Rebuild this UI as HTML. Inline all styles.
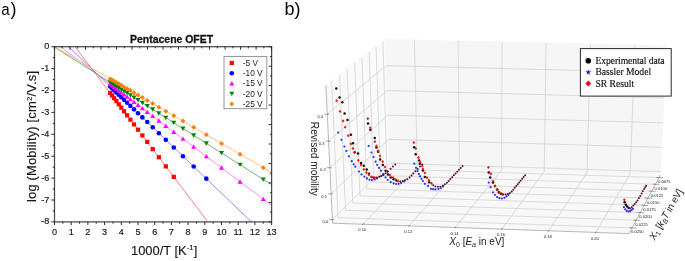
<!DOCTYPE html>
<html><head><meta charset="utf-8"><style>
html,body{margin:0;padding:0;background:#fff;}
svg{display:block;}
</style></head><body>
<svg style="will-change:transform" width="685" height="261" viewBox="0 0 685 261">
<rect width="685" height="261" fill="#fff"/>
<polygon points="389.42,166.47 332.56,223.19 325.89,85.4 385.47,39.09" fill="#fafafa" stroke="#fafafa" stroke-width="0.5"/>
<polygon points="389.42,166.47 660.47,174.97 666.77,45.57 385.47,39.09" fill="#f6f6f6" stroke="#f6f6f6" stroke-width="0.5"/>
<polygon points="389.42,166.47 660.47,174.97 629.03,233.62 332.56,223.19" fill="#f8f8f8" stroke="#f8f8f8" stroke-width="0.5"/>
<path d="M417.33 167.35L414.43 39.75M417.33 167.35L363.04 224.26M459.41 168.66L458.07 40.76M459.41 168.66L409.02 225.88M501.72 169.99L501.97 41.77M501.72 169.99L455.27 227.5M544.26 171.32L546.12 42.79M544.26 171.32L501.79 229.14M587.03 172.67L590.52 43.81M587.03 172.67L548.6 230.79M630.05 174.01L635.17 44.84M630.05 174.01L595.7 232.44M386.91 168.97L382.86 41.12M386.91 168.97L659.09 177.55M380.39 175.47L376.05 46.41M380.39 175.47L655.49 184.26M373.73 182.11L369.08 51.83M373.73 182.11L651.81 191.13M366.92 188.91L361.95 57.37M366.92 188.91L648.04 198.15M359.96 195.86L354.65 63.04M359.96 195.86L644.19 205.33M352.83 202.96L347.18 68.85M352.83 202.96L640.25 212.68M345.54 210.23L339.53 74.8M345.54 210.23L636.22 220.21M338.08 217.68L331.69 80.89M338.08 217.68L632.09 227.91M389.32 163.21L660.63 171.66M389.32 163.21L332.39 219.67M388.58 139.32L661.81 147.41M388.58 139.32L331.14 193.9M387.83 115.1L663.01 122.81M387.83 115.1L329.87 167.74M387.07 90.54L664.22 97.86M387.07 90.54L328.59 141.17M386.3 65.62L665.45 72.54M386.3 65.62L327.28 114.19" stroke="#cfcfcf" stroke-width="0.7" fill="none"/>
<path d="M332.56 223.19L629.03 233.62M660.47 174.97L629.03 233.62M332.56 223.19L325.89 85.4" stroke="#8c8c8c" stroke-width="0.6" fill="none"/>
<path d="M362.21 225.13L363.94 223.32M408.24 226.75L409.84 224.94M454.55 228.39L456.03 226.56M501.14 230.03L502.49 228.19M548.01 231.68L549.24 229.83M595.17 233.34L596.27 231.48M662.97 177.67L656.32 177.46M659.41 184.39L652.69 184.17M655.77 191.25L648.98 191.03M652.05 198.28L645.18 198.05M648.25 205.47L641.3 205.23M644.35 212.82L637.32 212.58M640.37 220.35L633.26 220.11M636.28 228.06L629.09 227.81M329.48 219.57L334.14 219.73M328.21 193.81L332.9 193.96M326.92 167.65L331.65 167.8M325.61 141.09L330.37 141.23M324.28 114.1L329.08 114.24" stroke="#444" stroke-width="0.5" fill="none"/>
<g font-family="Liberation Sans" font-size="4.1" fill="#222" text-anchor="middle">
<text x="362.24" y="231.36">0.10</text>
<text x="408.22" y="232.98">0.12</text>
<text x="454.47" y="234.6">0.14</text>
<text x="500.99" y="236.24">0.16</text>
<text x="547.8" y="237.89">0.18</text>
<text x="594.9" y="239.54">0.20</text>
<text x="325.39" y="223.27">0.0</text>
<text x="324.14" y="197.5">0.1</text>
<text x="322.87" y="171.34">0.2</text>
<text x="321.59" y="144.77">0.3</text>
<text x="320.28" y="117.79">0.4</text>
<text x="664.39" y="183.05">0.0075</text>
<text x="660.79" y="189.76">0.0100</text>
<text x="657.11" y="196.63">0.0125</text>
<text x="653.34" y="203.65">0.0150</text>
<text x="649.49" y="210.83">0.0175</text>
<text x="645.55" y="218.18">0.0200</text>
<text x="641.52" y="225.71">0.0225</text>
<text x="637.39" y="233.41">0.0250</text>
</g>
<text transform="translate(310.8,121.8) rotate(90)" font-family="Liberation Sans" font-size="10" fill="#222" textLength="74" lengthAdjust="spacingAndGlyphs">Revised mobility</text>
<text x="449.3" y="245" font-family="Liberation Sans" font-size="10" fill="#222"><tspan font-style="italic">X</tspan><tspan font-size="7" dy="1.8">0</tspan><tspan dy="-1.8"> [</tspan><tspan font-style="italic">E</tspan><tspan font-size="7" font-style="italic" dy="1.8">a</tspan><tspan dy="-1.8"> in eV]</tspan></text>
<text transform="translate(654.6,240.8) rotate(-60)" font-family="Liberation Sans" font-size="9.9" letter-spacing="-0.2" fill="#222"><tspan font-style="italic">X</tspan><tspan font-size="7" dy="1.8">1</tspan><tspan dy="-1.8"> [</tspan><tspan font-style="italic">k</tspan><tspan font-size="7" font-style="italic" dy="1.8">B</tspan><tspan dy="-1.8" font-style="italic">T</tspan><tspan> in eV]</tspan></text>
<circle cx="338.3" cy="132.5" r="1.1" fill="#3030ff"/>
<circle cx="341.4" cy="139.8" r="1.1" fill="#3030ff"/>
<circle cx="344.4" cy="146.6" r="1.1" fill="#3030ff"/>
<circle cx="346.3" cy="150.9" r="1.1" fill="#3030ff"/>
<circle cx="348.9" cy="156.3" r="1.1" fill="#3030ff"/>
<circle cx="351.8" cy="161.2" r="1.1" fill="#3030ff"/>
<circle cx="353.7" cy="164.3" r="1.1" fill="#3030ff"/>
<circle cx="355.3" cy="166.7" r="1.1" fill="#3030ff"/>
<circle cx="359" cy="171.5" r="1.1" fill="#3030ff"/>
<circle cx="361.5" cy="174.4" r="1.1" fill="#3030ff"/>
<circle cx="364.4" cy="176.7" r="1.1" fill="#3030ff"/>
<circle cx="367" cy="178.4" r="1.1" fill="#3030ff"/>
<circle cx="369.5" cy="179.8" r="1.1" fill="#3030ff"/>
<circle cx="372" cy="180.1" r="1.1" fill="#3030ff"/>
<circle cx="374.7" cy="179.5" r="1.1" fill="#3030ff"/>
<circle cx="377" cy="178.4" r="1.1" fill="#3030ff"/>
<circle cx="380.3" cy="176.5" r="1.1" fill="#3030ff"/>
<circle cx="383.2" cy="175.1" r="1.1" fill="#3030ff"/>
<circle cx="368.7" cy="146.1" r="1.1" fill="#3030ff"/>
<circle cx="371.4" cy="152.5" r="1.1" fill="#3030ff"/>
<circle cx="373.5" cy="157" r="1.1" fill="#3030ff"/>
<circle cx="375.6" cy="161.7" r="1.1" fill="#3030ff"/>
<circle cx="377.2" cy="164.8" r="1.1" fill="#3030ff"/>
<circle cx="379" cy="167.9" r="1.1" fill="#3030ff"/>
<circle cx="380.9" cy="170.7" r="1.1" fill="#3030ff"/>
<circle cx="383.4" cy="174.1" r="1.1" fill="#3030ff"/>
<circle cx="385.6" cy="177.4" r="1.1" fill="#3030ff"/>
<circle cx="387.8" cy="180" r="1.1" fill="#3030ff"/>
<circle cx="390.7" cy="182.2" r="1.1" fill="#3030ff"/>
<circle cx="393.6" cy="183.4" r="1.1" fill="#3030ff"/>
<circle cx="396.2" cy="184" r="1.1" fill="#3030ff"/>
<circle cx="398.7" cy="183.8" r="1.1" fill="#3030ff"/>
<circle cx="401.1" cy="183" r="1.1" fill="#3030ff"/>
<circle cx="404.2" cy="181.5" r="1.1" fill="#3030ff"/>
<circle cx="414.3" cy="163.7" r="1.1" fill="#3030ff"/>
<circle cx="416" cy="167.8" r="1.1" fill="#3030ff"/>
<circle cx="417.5" cy="171" r="1.1" fill="#3030ff"/>
<circle cx="418.9" cy="174.1" r="1.1" fill="#3030ff"/>
<circle cx="420" cy="176.4" r="1.1" fill="#3030ff"/>
<circle cx="421.5" cy="178.8" r="1.1" fill="#3030ff"/>
<circle cx="422.9" cy="181" r="1.1" fill="#3030ff"/>
<circle cx="424.9" cy="183.8" r="1.1" fill="#3030ff"/>
<circle cx="428.1" cy="186.1" r="1.1" fill="#3030ff"/>
<circle cx="431" cy="188.8" r="1.1" fill="#3030ff"/>
<circle cx="433.1" cy="189.2" r="1.1" fill="#3030ff"/>
<circle cx="435.4" cy="189.4" r="1.1" fill="#3030ff"/>
<circle cx="438.4" cy="189.1" r="1.1" fill="#3030ff"/>
<circle cx="440.7" cy="188" r="1.1" fill="#3030ff"/>
<circle cx="443" cy="186.4" r="1.1" fill="#3030ff"/>
<circle cx="488.8" cy="182.6" r="1.1" fill="#3030ff"/>
<circle cx="490.6" cy="187.2" r="1.1" fill="#3030ff"/>
<circle cx="493" cy="192.3" r="1.1" fill="#3030ff"/>
<circle cx="495" cy="195" r="1.1" fill="#3030ff"/>
<circle cx="497.1" cy="197.1" r="1.1" fill="#3030ff"/>
<circle cx="499.4" cy="198.2" r="1.1" fill="#3030ff"/>
<circle cx="501.9" cy="198.5" r="1.1" fill="#3030ff"/>
<circle cx="504.4" cy="197.8" r="1.1" fill="#3030ff"/>
<circle cx="506.5" cy="196.4" r="1.1" fill="#3030ff"/>
<circle cx="508.5" cy="194.8" r="1.1" fill="#3030ff"/>
<circle cx="623.9" cy="207.2" r="1.1" fill="#3030ff"/>
<circle cx="625.2" cy="209.3" r="1.1" fill="#3030ff"/>
<circle cx="626.8" cy="210.9" r="1.1" fill="#3030ff"/>
<circle cx="628.4" cy="211.5" r="1.1" fill="#3030ff"/>
<circle cx="630.1" cy="211.2" r="1.1" fill="#3030ff"/>
<circle cx="631.7" cy="210" r="1.1" fill="#3030ff"/>
<circle cx="632.9" cy="208.8" r="1.1" fill="#3030ff"/>
<circle cx="336.3" cy="88.4" r="1.25" fill="#111"/>
<circle cx="339.5" cy="97.6" r="1.25" fill="#111"/>
<circle cx="342.3" cy="102.2" r="1.25" fill="#111"/>
<circle cx="344.6" cy="113.5" r="1.25" fill="#111"/>
<circle cx="347.5" cy="120" r="1.25" fill="#111"/>
<circle cx="350.9" cy="134.8" r="1.25" fill="#111"/>
<circle cx="353" cy="143.2" r="1.25" fill="#111"/>
<circle cx="354.7" cy="152.3" r="1.25" fill="#111"/>
<circle cx="358" cy="153.4" r="1.25" fill="#111"/>
<circle cx="361" cy="163" r="1.25" fill="#111"/>
<circle cx="363.8" cy="165.7" r="1.25" fill="#111"/>
<circle cx="366.7" cy="169.4" r="1.25" fill="#111"/>
<circle cx="369" cy="173.8" r="1.25" fill="#111"/>
<circle cx="371.6" cy="177" r="1.25" fill="#111"/>
<circle cx="374.1" cy="177.8" r="1.25" fill="#111"/>
<circle cx="368" cy="123.4" r="1.25" fill="#111"/>
<circle cx="370.4" cy="129.8" r="1.25" fill="#111"/>
<circle cx="374.8" cy="138" r="1.25" fill="#111"/>
<circle cx="376.4" cy="147.4" r="1.25" fill="#111"/>
<circle cx="378.1" cy="151.7" r="1.25" fill="#111"/>
<circle cx="380.1" cy="159.4" r="1.25" fill="#111"/>
<circle cx="382.8" cy="165" r="1.25" fill="#111"/>
<circle cx="385.6" cy="170.8" r="1.25" fill="#111"/>
<circle cx="388" cy="174.5" r="1.25" fill="#111"/>
<circle cx="390.7" cy="177.6" r="1.25" fill="#111"/>
<circle cx="393.6" cy="179.3" r="1.25" fill="#111"/>
<circle cx="396.5" cy="180.6" r="1.25" fill="#111"/>
<circle cx="414.2" cy="147.2" r="1.25" fill="#111"/>
<circle cx="415.7" cy="154.2" r="1.25" fill="#111"/>
<circle cx="419.1" cy="160.5" r="1.25" fill="#111"/>
<circle cx="419.8" cy="163.7" r="1.25" fill="#111"/>
<circle cx="422.9" cy="170.4" r="1.25" fill="#111"/>
<circle cx="424.9" cy="176.9" r="1.25" fill="#111"/>
<circle cx="429.2" cy="182.3" r="1.25" fill="#111"/>
<circle cx="488.8" cy="172.6" r="1.25" fill="#111"/>
<circle cx="490.2" cy="177.5" r="1.25" fill="#111"/>
<circle cx="493" cy="182.6" r="1.25" fill="#111"/>
<circle cx="495" cy="186" r="1.25" fill="#111"/>
<circle cx="497.1" cy="189.5" r="1.25" fill="#111"/>
<circle cx="498.9" cy="192.3" r="1.25" fill="#111"/>
<circle cx="501.2" cy="193.7" r="1.25" fill="#111"/>
<circle cx="624.7" cy="202.3" r="1.25" fill="#111"/>
<circle cx="625.9" cy="204.7" r="1.25" fill="#111"/>
<circle cx="627.1" cy="206.6" r="1.25" fill="#111"/>
<circle cx="628.6" cy="208" r="1.25" fill="#111"/>
<polygon points="336.6,99.1 338,100.7 336.6,102.3 335.2,100.7" fill="#ff1010"/>
<polygon points="340,109.8 341.4,111.4 340,113 338.6,111.4" fill="#ff1010"/>
<polygon points="343.1,119.3 344.5,120.9 343.1,122.5 341.7,120.9" fill="#ff1010"/>
<polygon points="345.2,125.6 346.6,127.2 345.2,128.8 343.8,127.2" fill="#ff1010"/>
<polygon points="348.2,134.1 349.6,135.7 348.2,137.3 346.8,135.7" fill="#ff1010"/>
<polygon points="351,142.2 352.4,143.8 351,145.4 349.6,143.8" fill="#ff1010"/>
<polygon points="353,146.8 354.4,148.4 353,150 351.6,148.4" fill="#ff1010"/>
<polygon points="354.7,150.7 356.1,152.3 354.7,153.9 353.3,152.3" fill="#ff1010"/>
<polygon points="358.3,158.7 359.7,160.3 358.3,161.9 356.9,160.3" fill="#ff1010"/>
<polygon points="361,163.2 362.4,164.8 361,166.4 359.6,164.8" fill="#ff1010"/>
<polygon points="363.8,167.8 365.2,169.4 363.8,171 362.4,169.4" fill="#ff1010"/>
<polygon points="366.4,171 367.8,172.6 366.4,174.2 365,172.6" fill="#ff1010"/>
<polygon points="369,173.3 370.4,174.9 369,176.5 367.6,174.9" fill="#ff1010"/>
<polygon points="371.8,175.4 373.2,177 371.8,178.6 370.4,177" fill="#ff1010"/>
<polygon points="374.7,176.2 376.1,177.8 374.7,179.4 373.3,177.8" fill="#ff1010"/>
<polygon points="367.8,117 369.2,118.6 367.8,120.2 366.4,118.6" fill="#ff1010"/>
<polygon points="370.3,126.2 371.7,127.8 370.3,129.4 368.9,127.8" fill="#ff1010"/>
<polygon points="374.9,140.1 376.3,141.7 374.9,143.3 373.5,141.7" fill="#ff1010"/>
<polygon points="376.4,144.3 377.8,145.9 376.4,147.5 375,145.9" fill="#ff1010"/>
<polygon points="378.1,149.3 379.5,150.9 378.1,152.5 376.7,150.9" fill="#ff1010"/>
<polygon points="380,154.3 381.4,155.9 380,157.5 378.6,155.9" fill="#ff1010"/>
<polygon points="382.7,160.1 384.1,161.7 382.7,163.3 381.3,161.7" fill="#ff1010"/>
<polygon points="385,165.4 386.4,167 385,168.6 383.6,167" fill="#ff1010"/>
<polygon points="387.5,169.9 388.9,171.5 387.5,173.1 386.1,171.5" fill="#ff1010"/>
<polygon points="389.9,173.4 391.3,175 389.9,176.6 388.5,175" fill="#ff1010"/>
<polygon points="393,176 394.4,177.6 393,179.2 391.6,177.6" fill="#ff1010"/>
<polygon points="395.3,177.8 396.7,179.4 395.3,181 393.9,179.4" fill="#ff1010"/>
<polygon points="398.2,179.5 399.6,181.1 398.2,182.7 396.8,181.1" fill="#ff1010"/>
<polygon points="413.9,141 415.3,142.6 413.9,144.2 412.5,142.6" fill="#ff1010"/>
<polygon points="415.7,146.8 417.1,148.4 415.7,150 414.3,148.4" fill="#ff1010"/>
<polygon points="418.5,156 419.9,157.6 418.5,159.2 417.1,157.6" fill="#ff1010"/>
<polygon points="420.2,160.6 421.6,162.2 420.2,163.8 418.8,162.2" fill="#ff1010"/>
<polygon points="422.3,164.4 423.7,166 422.3,167.6 420.9,166" fill="#ff1010"/>
<polygon points="422.9,167.3 424.3,168.9 422.9,170.5 421.5,168.9" fill="#ff1010"/>
<polygon points="424.9,171.3 426.3,172.9 424.9,174.5 423.5,172.9" fill="#ff1010"/>
<polygon points="426.9,176.1 428.3,177.7 426.9,179.3 425.5,177.7" fill="#ff1010"/>
<polygon points="429,178.6 430.4,180.2 429,181.8 427.6,180.2" fill="#ff1010"/>
<polygon points="431.5,181.7 432.9,183.3 431.5,184.9 430.1,183.3" fill="#ff1010"/>
<polygon points="488.4,165.8 489.8,167.4 488.4,169 487,167.4" fill="#ff1010"/>
<polygon points="490.9,172.3 492.3,173.9 490.9,175.5 489.5,173.9" fill="#ff1010"/>
<polygon points="493,179.4 494.4,181 493,182.6 491.6,181" fill="#ff1010"/>
<polygon points="495,184.5 496.4,186.1 495,187.7 493.6,186.1" fill="#ff1010"/>
<polygon points="497.5,188.3 498.9,189.9 497.5,191.5 496.1,189.9" fill="#ff1010"/>
<polygon points="499.6,191.4 501,193 499.6,194.6 498.2,193" fill="#ff1010"/>
<polygon points="502.3,192.7 503.7,194.3 502.3,195.9 500.9,194.3" fill="#ff1010"/>
<polygon points="624.3,198.2 625.7,199.8 624.3,201.4 622.9,199.8" fill="#ff1010"/>
<circle cx="376.8" cy="177.6" r="1.0" fill="#5a1426"/>
<circle cx="379.1" cy="176.8" r="1.0" fill="#5a1426"/>
<circle cx="381.4" cy="176" r="1.0" fill="#5a1426"/>
<circle cx="383.4" cy="174.5" r="1.0" fill="#5a1426"/>
<circle cx="385.7" cy="173.2" r="1.0" fill="#5a1426"/>
<circle cx="387.8" cy="171.4" r="1.0" fill="#5a1426"/>
<circle cx="390.6" cy="168.7" r="1.0" fill="#5a1426"/>
<circle cx="392.9" cy="166.6" r="1.0" fill="#5a1426"/>
<circle cx="395.2" cy="164.5" r="1.0" fill="#5a1426"/>
<circle cx="400.4" cy="181.5" r="1.0" fill="#5a1426"/>
<circle cx="402.7" cy="181.1" r="1.0" fill="#5a1426"/>
<circle cx="405" cy="180.2" r="1.0" fill="#5a1426"/>
<circle cx="407.3" cy="179.2" r="1.0" fill="#5a1426"/>
<circle cx="409.6" cy="177.6" r="1.0" fill="#5a1426"/>
<circle cx="411.6" cy="175.6" r="1.0" fill="#5a1426"/>
<circle cx="413.4" cy="173.4" r="1.0" fill="#5a1426"/>
<circle cx="415.4" cy="171.2" r="1.0" fill="#5a1426"/>
<circle cx="417.7" cy="168.9" r="1.0" fill="#5a1426"/>
<circle cx="420" cy="166.6" r="1.0" fill="#5a1426"/>
<circle cx="422.2" cy="164.6" r="1.0" fill="#5a1426"/>
<circle cx="433.2" cy="185.2" r="1.0" fill="#5a1426"/>
<circle cx="435.43" cy="186.41" r="1.0" fill="#5a1426"/>
<circle cx="437.93" cy="186.8" r="1.0" fill="#5a1426"/>
<circle cx="440.45" cy="186.66" r="1.0" fill="#5a1426"/>
<circle cx="442.79" cy="185.76" r="1.0" fill="#5a1426"/>
<circle cx="444.86" cy="184.29" r="1.0" fill="#5a1426"/>
<circle cx="446.86" cy="182.73" r="1.0" fill="#5a1426"/>
<circle cx="448.6" cy="180.89" r="1.0" fill="#5a1426"/>
<circle cx="450.34" cy="179.04" r="1.0" fill="#5a1426"/>
<circle cx="452.08" cy="177.19" r="1.0" fill="#5a1426"/>
<circle cx="453.81" cy="175.34" r="1.0" fill="#5a1426"/>
<circle cx="455.55" cy="173.49" r="1.0" fill="#5a1426"/>
<circle cx="457.29" cy="171.65" r="1.0" fill="#5a1426"/>
<circle cx="459.03" cy="169.8" r="1.0" fill="#5a1426"/>
<circle cx="460.76" cy="167.95" r="1.0" fill="#5a1426"/>
<circle cx="462.5" cy="166.1" r="1.0" fill="#5a1426"/>
<circle cx="503.3" cy="194.6" r="1.0" fill="#5a1426"/>
<circle cx="505.64" cy="194.6" r="1.0" fill="#5a1426"/>
<circle cx="507.87" cy="193.95" r="1.0" fill="#5a1426"/>
<circle cx="509.93" cy="192.91" r="1.0" fill="#5a1426"/>
<circle cx="511.7" cy="191.4" r="1.0" fill="#5a1426"/>
<circle cx="513.27" cy="189.67" r="1.0" fill="#5a1426"/>
<circle cx="514.75" cy="187.87" r="1.0" fill="#5a1426"/>
<circle cx="516.23" cy="186.06" r="1.0" fill="#5a1426"/>
<circle cx="517.71" cy="184.25" r="1.0" fill="#5a1426"/>
<circle cx="519.19" cy="182.44" r="1.0" fill="#5a1426"/>
<circle cx="520.67" cy="180.63" r="1.0" fill="#5a1426"/>
<circle cx="522.14" cy="178.82" r="1.0" fill="#5a1426"/>
<circle cx="523.62" cy="177.01" r="1.0" fill="#5a1426"/>
<circle cx="525.1" cy="175.2" r="1.0" fill="#5a1426"/>
<circle cx="630.1" cy="208.4" r="1.0" fill="#5a1426"/>
<circle cx="631.7" cy="207.2" r="1.0" fill="#5a1426"/>
<circle cx="633.3" cy="205.6" r="1.0" fill="#5a1426"/>
<circle cx="634.8" cy="203.9" r="1.0" fill="#5a1426"/>
<circle cx="636.2" cy="202.2" r="1.0" fill="#5a1426"/>
<circle cx="637.5" cy="200.4" r="1.0" fill="#5a1426"/>
<circle cx="638.9" cy="198.1" r="1.0" fill="#5a1426"/>
<circle cx="640.3" cy="195.9" r="1.0" fill="#5a1426"/>
<circle cx="641.6" cy="193.5" r="1.0" fill="#5a1426"/>
<circle cx="642.8" cy="191.3" r="1.0" fill="#5a1426"/>
<circle cx="644.1" cy="188.9" r="1.0" fill="#5a1426"/>
<circle cx="645.2" cy="187.3" r="1.0" fill="#5a1426"/>
<circle cx="646.1" cy="185.8" r="1.0" fill="#5a1426"/>
<rect x="580.4" y="48.6" width="90.8" height="47.5" fill="#fff" stroke="#2a2a2a" stroke-width="1"/>
<circle cx="588.3" cy="60.8" r="2.8" fill="#000"/>
<polygon points="588.3,69.2 589.03,71.19 591.15,71.27 589.49,72.59 590.06,74.63 588.3,73.45 586.54,74.63 587.11,72.59 585.45,71.27 587.57,71.19" fill="#1a1aff"/>
<polygon points="588.3,80.6 591.1,83.6 588.3,86.6 585.5,83.6" fill="#ff0000"/>
<g font-family="Liberation Serif" font-size="9.6" fill="#111" stroke="#111" stroke-width="0.15">
<text x="595.4" y="63.8" textLength="69.2" lengthAdjust="spacing">Experimental data</text>
<text x="595.4" y="75.1">Bassler Model</text>
<text x="595.4" y="86.6">SR Result</text>
</g>
<clipPath id="cp"><rect x="54.5" y="46.7" width="217.10000000000002" height="175.2"/></clipPath>
<g clip-path="url(#cp)" stroke-width="0.8" fill="none">
<line x1="49.5" y1="12.95" x2="276.6" y2="312.49" stroke="#ff6060"/>
<line x1="49.5" y1="28.4" x2="276.6" y2="245.96" stroke="#7070ff"/>
<line x1="49.5" y1="38.5" x2="276.6" y2="209.15" stroke="#ff70ff"/>
<line x1="49.5" y1="43.91" x2="276.6" y2="187.89" stroke="#50a050"/>
<line x1="49.5" y1="43.69" x2="276.6" y2="175.41" stroke="#ffb060"/>
</g>
<g clip-path="url(#cp)">
<rect x="108.07" y="90.87" width="4.2" height="4.2" fill="#ff0000"/>
<rect x="109.99" y="93.4" width="4.2" height="4.2" fill="#ff0000"/>
<rect x="112.04" y="96.11" width="4.2" height="4.2" fill="#ff0000"/>
<rect x="114.25" y="99.02" width="4.2" height="4.2" fill="#ff0000"/>
<rect x="116.63" y="102.16" width="4.2" height="4.2" fill="#ff0000"/>
<rect x="119.2" y="105.55" width="4.2" height="4.2" fill="#ff0000"/>
<rect x="121.98" y="109.22" width="4.2" height="4.2" fill="#ff0000"/>
<rect x="125.01" y="113.21" width="4.2" height="4.2" fill="#ff0000"/>
<rect x="128.31" y="117.57" width="4.2" height="4.2" fill="#ff0000"/>
<rect x="131.92" y="122.33" width="4.2" height="4.2" fill="#ff0000"/>
<rect x="135.9" y="127.58" width="4.2" height="4.2" fill="#ff0000"/>
<rect x="140.29" y="133.37" width="4.2" height="4.2" fill="#ff0000"/>
<rect x="145.18" y="139.82" width="4.2" height="4.2" fill="#ff0000"/>
<rect x="150.64" y="147.01" width="4.2" height="4.2" fill="#ff0000"/>
<rect x="156.78" y="155.11" width="4.2" height="4.2" fill="#ff0000"/>
<rect x="163.73" y="164.29" width="4.2" height="4.2" fill="#ff0000"/>
<rect x="171.69" y="174.78" width="4.2" height="4.2" fill="#ff0000"/>
<circle cx="110.17" cy="86.52" r="2.3" fill="#0000ff"/>
<circle cx="112.09" cy="88.36" r="2.3" fill="#0000ff"/>
<circle cx="114.14" cy="90.33" r="2.3" fill="#0000ff"/>
<circle cx="116.35" cy="92.44" r="2.3" fill="#0000ff"/>
<circle cx="118.73" cy="94.72" r="2.3" fill="#0000ff"/>
<circle cx="121.3" cy="97.18" r="2.3" fill="#0000ff"/>
<circle cx="124.08" cy="99.85" r="2.3" fill="#0000ff"/>
<circle cx="127.11" cy="102.75" r="2.3" fill="#0000ff"/>
<circle cx="130.41" cy="105.91" r="2.3" fill="#0000ff"/>
<circle cx="134.02" cy="109.37" r="2.3" fill="#0000ff"/>
<circle cx="138" cy="113.18" r="2.3" fill="#0000ff"/>
<circle cx="142.39" cy="117.39" r="2.3" fill="#0000ff"/>
<circle cx="147.28" cy="122.07" r="2.3" fill="#0000ff"/>
<circle cx="152.74" cy="127.3" r="2.3" fill="#0000ff"/>
<circle cx="158.88" cy="133.18" r="2.3" fill="#0000ff"/>
<circle cx="165.83" cy="139.84" r="2.3" fill="#0000ff"/>
<circle cx="173.79" cy="147.46" r="2.3" fill="#0000ff"/>
<circle cx="182.96" cy="156.25" r="2.3" fill="#0000ff"/>
<circle cx="193.67" cy="166.51" r="2.3" fill="#0000ff"/>
<circle cx="206.32" cy="178.63" r="2.3" fill="#0000ff"/>
<polygon points="107.67,86.09 112.67,86.09 110.17,81.69" fill="#ff00ff"/>
<polygon points="109.59,87.53 114.59,87.53 112.09,83.13" fill="#ff00ff"/>
<polygon points="111.64,89.08 116.64,89.08 114.14,84.68" fill="#ff00ff"/>
<polygon points="113.85,90.74 118.85,90.74 116.35,86.34" fill="#ff00ff"/>
<polygon points="116.23,92.52 121.23,92.52 118.73,88.12" fill="#ff00ff"/>
<polygon points="118.8,94.46 123.8,94.46 121.3,90.06" fill="#ff00ff"/>
<polygon points="121.58,96.55 126.58,96.55 124.08,92.15" fill="#ff00ff"/>
<polygon points="124.61,98.82 129.61,98.82 127.11,94.42" fill="#ff00ff"/>
<polygon points="127.91,101.3 132.91,101.3 130.41,96.9" fill="#ff00ff"/>
<polygon points="131.52,104.02 136.52,104.02 134.02,99.62" fill="#ff00ff"/>
<polygon points="135.5,107 140.5,107 138,102.6" fill="#ff00ff"/>
<polygon points="139.89,110.31 144.89,110.31 142.39,105.91" fill="#ff00ff"/>
<polygon points="144.78,113.97 149.78,113.97 147.28,109.57" fill="#ff00ff"/>
<polygon points="150.24,118.08 155.24,118.08 152.74,113.68" fill="#ff00ff"/>
<polygon points="156.38,122.69 161.38,122.69 158.88,118.29" fill="#ff00ff"/>
<polygon points="163.33,127.92 168.33,127.92 165.83,123.52" fill="#ff00ff"/>
<polygon points="171.29,133.89 176.29,133.89 173.79,129.49" fill="#ff00ff"/>
<polygon points="180.46,140.79 185.46,140.79 182.96,136.39" fill="#ff00ff"/>
<polygon points="191.17,148.83 196.17,148.83 193.67,144.43" fill="#ff00ff"/>
<polygon points="203.82,158.34 208.82,158.34 206.32,153.94" fill="#ff00ff"/>
<polygon points="219,169.75 224,169.75 221.5,165.35" fill="#ff00ff"/>
<polygon points="237.56,183.69 242.56,183.69 240.06,179.29" fill="#ff00ff"/>
<polygon points="260.75,201.12 265.75,201.12 263.25,196.72" fill="#ff00ff"/>
<polygon points="107.67,80.37 112.67,80.37 110.17,84.77" fill="#008000"/>
<polygon points="109.59,81.59 114.59,81.59 112.09,85.99" fill="#008000"/>
<polygon points="111.64,82.89 116.64,82.89 114.14,87.29" fill="#008000"/>
<polygon points="113.85,84.29 118.85,84.29 116.35,88.69" fill="#008000"/>
<polygon points="116.23,85.8 121.23,85.8 118.73,90.2" fill="#008000"/>
<polygon points="118.8,87.43 123.8,87.43 121.3,91.83" fill="#008000"/>
<polygon points="121.58,89.19 126.58,89.19 124.08,93.59" fill="#008000"/>
<polygon points="124.61,91.11 129.61,91.11 127.11,95.51" fill="#008000"/>
<polygon points="127.91,93.2 132.91,93.2 130.41,97.6" fill="#008000"/>
<polygon points="131.52,95.5 136.52,95.5 134.02,99.9" fill="#008000"/>
<polygon points="135.5,98.02 140.5,98.02 138,102.42" fill="#008000"/>
<polygon points="139.89,100.8 144.89,100.8 142.39,105.2" fill="#008000"/>
<polygon points="144.78,103.9 149.78,103.9 147.28,108.3" fill="#008000"/>
<polygon points="150.24,107.36 155.24,107.36 152.74,111.76" fill="#008000"/>
<polygon points="156.38,111.25 161.38,111.25 158.88,115.65" fill="#008000"/>
<polygon points="163.33,115.66 168.33,115.66 165.83,120.06" fill="#008000"/>
<polygon points="171.29,120.7 176.29,120.7 173.79,125.1" fill="#008000"/>
<polygon points="180.46,126.52 185.46,126.52 182.96,130.92" fill="#008000"/>
<polygon points="191.17,133.31 196.17,133.31 193.67,137.71" fill="#008000"/>
<polygon points="203.82,141.33 208.82,141.33 206.32,145.73" fill="#008000"/>
<polygon points="219,150.96 224,150.96 221.5,155.36" fill="#008000"/>
<polygon points="237.56,162.72 242.56,162.72 240.06,167.12" fill="#008000"/>
<polygon points="260.75,177.42 265.75,177.42 263.25,181.82" fill="#008000"/>
<polygon points="110.17,76.38 112.57,78.88 110.17,81.38 107.77,78.88" fill="#ff8000"/>
<polygon points="112.09,77.49 114.49,79.99 112.09,82.49 109.69,79.99" fill="#ff8000"/>
<polygon points="114.14,78.68 116.54,81.18 114.14,83.68 111.74,81.18" fill="#ff8000"/>
<polygon points="116.35,79.96 118.75,82.46 116.35,84.96 113.95,82.46" fill="#ff8000"/>
<polygon points="118.73,81.34 121.13,83.84 118.73,86.34 116.33,83.84" fill="#ff8000"/>
<polygon points="121.3,82.83 123.7,85.33 121.3,87.83 118.9,85.33" fill="#ff8000"/>
<polygon points="124.08,84.45 126.48,86.95 124.08,89.45 121.68,86.95" fill="#ff8000"/>
<polygon points="127.11,86.2 129.51,88.7 127.11,91.2 124.71,88.7" fill="#ff8000"/>
<polygon points="130.41,88.12 132.81,90.62 130.41,93.12 128.01,90.62" fill="#ff8000"/>
<polygon points="134.02,90.21 136.42,92.71 134.02,95.21 131.62,92.71" fill="#ff8000"/>
<polygon points="138,92.52 140.4,95.02 138,97.52 135.6,95.02" fill="#ff8000"/>
<polygon points="142.39,95.07 144.79,97.57 142.39,100.07 139.99,97.57" fill="#ff8000"/>
<polygon points="147.28,97.9 149.68,100.4 147.28,102.9 144.88,100.4" fill="#ff8000"/>
<polygon points="152.74,101.07 155.14,103.57 152.74,106.07 150.34,103.57" fill="#ff8000"/>
<polygon points="158.88,104.63 161.28,107.13 158.88,109.63 156.47,107.13" fill="#ff8000"/>
<polygon points="165.83,108.66 168.23,111.16 165.83,113.66 163.43,111.16" fill="#ff8000"/>
<polygon points="173.79,113.28 176.19,115.78 173.79,118.28 171.39,115.78" fill="#ff8000"/>
<polygon points="182.96,118.6 185.36,121.1 182.96,123.6 180.56,121.1" fill="#ff8000"/>
<polygon points="193.67,124.81 196.07,127.31 193.67,129.81 191.27,127.31" fill="#ff8000"/>
<polygon points="206.32,132.14 208.72,134.64 206.32,137.14 203.92,134.64" fill="#ff8000"/>
<polygon points="221.5,140.95 223.9,143.45 221.5,145.95 219.1,143.45" fill="#ff8000"/>
<polygon points="240.06,151.71 242.46,154.21 240.06,156.71 237.66,154.21" fill="#ff8000"/>
<polygon points="263.25,165.16 265.65,167.66 263.25,170.16 260.85,167.66" fill="#ff8000"/>
</g>
<rect x="54.5" y="46.7" width="217.1" height="175.2" fill="none" stroke="#4a4a4a" stroke-width="1.25"/>
<path d="M54.5 221.9v3.2 M62.85 221.9v1.8 M71.2 221.9v3.2 M79.55 221.9v1.8 M87.9 221.9v3.2 M96.25 221.9v1.8 M104.6 221.9v3.2 M112.95 221.9v1.8 M121.3 221.9v3.2 M129.65 221.9v1.8 M138 221.9v3.2 M146.35 221.9v1.8 M154.7 221.9v3.2 M163.05 221.9v1.8 M171.4 221.9v3.2 M179.75 221.9v1.8 M188.1 221.9v3.2 M196.45 221.9v1.8 M204.8 221.9v3.2 M213.15 221.9v1.8 M221.5 221.9v3.2 M229.85 221.9v1.8 M238.2 221.9v3.2 M246.55 221.9v1.8 M254.9 221.9v3.2 M263.25 221.9v1.8 M271.6 221.9v3.2 M54.5 46.7h-3.2 M54.5 57.65h-1.8 M54.5 68.6h-3.2 M54.5 79.55h-1.8 M54.5 90.5h-3.2 M54.5 101.45h-1.8 M54.5 112.4h-3.2 M54.5 123.35h-1.8 M54.5 134.3h-3.2 M54.5 145.25h-1.8 M54.5 156.2h-3.2 M54.5 167.15h-1.8 M54.5 178.1h-3.2 M54.5 189.05h-1.8 M54.5 200h-3.2 M54.5 210.95h-1.8 M54.5 221.9h-3.2 M54.5 46.7v3 M62.25 46.7v1.7 M70.01 46.7v3 M77.76 46.7v1.7 M85.51 46.7v3 M93.27 46.7v1.7 M101.02 46.7v3 M108.78 46.7v1.7 M116.53 46.7v3 M124.28 46.7v1.7 M132.04 46.7v3 M139.79 46.7v1.7 M147.54 46.7v3 M155.3 46.7v1.7 M163.05 46.7v3 M170.8 46.7v1.7 M178.56 46.7v3 M186.31 46.7v1.7 M194.06 46.7v3 M201.82 46.7v1.7 M209.57 46.7v3 M217.33 46.7v1.7 M225.08 46.7v3 M232.83 46.7v1.7 M240.59 46.7v3 M248.34 46.7v1.7 M256.09 46.7v3 M263.85 46.7v1.7 M271.6 46.7v3 M271.6 46.7h-3 M271.6 56.43h-1.7 M271.6 66.17h-3 M271.6 75.9h-1.7 M271.6 85.63h-3 M271.6 95.37h-1.7 M271.6 105.1h-3 M271.6 114.83h-1.7 M271.6 124.57h-3 M271.6 134.3h-1.7 M271.6 144.03h-3 M271.6 153.77h-1.7 M271.6 163.5h-3 M271.6 173.23h-1.7 M271.6 182.97h-3 M271.6 192.7h-1.7 M271.6 202.43h-3 M271.6 212.17h-1.7 M271.6 221.9h-3" stroke="#1a1a1a" stroke-width="0.9" fill="none"/>
<g font-family="Liberation Sans" font-size="9.1" fill="#1a1a1a" stroke="#1a1a1a" stroke-width="0.18">
<text x="54.5" y="234.6" text-anchor="middle">0</text>
<text x="71.2" y="234.6" text-anchor="middle">1</text>
<text x="87.9" y="234.6" text-anchor="middle">2</text>
<text x="104.6" y="234.6" text-anchor="middle">3</text>
<text x="121.3" y="234.6" text-anchor="middle">4</text>
<text x="138" y="234.6" text-anchor="middle">5</text>
<text x="154.7" y="234.6" text-anchor="middle">6</text>
<text x="171.4" y="234.6" text-anchor="middle">7</text>
<text x="188.1" y="234.6" text-anchor="middle">8</text>
<text x="204.8" y="234.6" text-anchor="middle">9</text>
<text x="221.5" y="234.6" text-anchor="middle">10</text>
<text x="238.2" y="234.6" text-anchor="middle">11</text>
<text x="254.9" y="234.6" text-anchor="middle">12</text>
<text x="271.6" y="234.6" text-anchor="middle">13</text>
<text x="49.3" y="49.2" text-anchor="end">0</text>
<text x="49.3" y="71.1" text-anchor="end">-1</text>
<text x="49.3" y="93" text-anchor="end">-2</text>
<text x="49.3" y="114.9" text-anchor="end">-3</text>
<text x="49.3" y="136.8" text-anchor="end">-4</text>
<text x="49.3" y="158.7" text-anchor="end">-5</text>
<text x="49.3" y="180.6" text-anchor="end">-6</text>
<text x="49.3" y="202.5" text-anchor="end">-7</text>
<text x="49.3" y="224.4" text-anchor="end">-8</text>
</g>
<text x="131" y="254.7" font-family="Liberation Sans" font-size="12.9" fill="#1a1a1a" stroke="#1a1a1a" stroke-width="0.15">1000/T [K<tspan font-size="8" dy="-4.5">-1</tspan><tspan dy="4.5">]</tspan></text>
<text transform="translate(36.4,202) rotate(-90)" font-family="Liberation Sans" font-size="12.9" textLength="131" lengthAdjust="spacing" fill="#1a1a1a" stroke="#1a1a1a" stroke-width="0.15">log (Mobility) [cm<tspan font-size="8" dy="-4.5">2</tspan><tspan dy="4.5">/V.s]</tspan></text>
<text x="130.1" y="42.6" font-family="Liberation Sans" font-weight="bold" font-size="10.8" fill="#111" stroke="#111" stroke-width="0.3" textLength="83" lengthAdjust="spacingAndGlyphs">Pentacene OFET</text>
<rect x="224" y="56.4" width="42.8" height="52.3" fill="#fff" stroke="#8a8a8a" stroke-width="0.9"/>
<rect x="229.7" y="60.9" width="4.2" height="4.2" fill="#ff0000"/>
<text x="242.8" y="66" font-family="Liberation Sans" font-size="8.3" fill="#1a1a1a">-5 V</text>
<circle cx="231.8" cy="73.22" r="2.3" fill="#0000ff"/>
<text x="242.8" y="76.22" font-family="Liberation Sans" font-size="8.3" fill="#1a1a1a">-10 V</text>
<polygon points="229.3,85.44 234.3,85.44 231.8,81.04" fill="#ff00ff"/>
<text x="242.8" y="86.44" font-family="Liberation Sans" font-size="8.3" fill="#1a1a1a">-15 V</text>
<polygon points="229.3,91.66 234.3,91.66 231.8,96.06" fill="#008000"/>
<text x="242.8" y="96.66" font-family="Liberation Sans" font-size="8.3" fill="#1a1a1a">-20 V</text>
<polygon points="231.8,101.38 234.2,103.88 231.8,106.38 229.4,103.88" fill="#ff8000"/>
<text x="242.8" y="106.88" font-family="Liberation Sans" font-size="8.3" fill="#1a1a1a">-25 V</text>
<g font-family="Liberation Sans" font-size="18" fill="#000"><text transform="translate(1.2,15.2) scale(0.84,0.96)">a</text><text x="10.6" y="15.1">)</text><text x="284.5" y="15.1">b</text><text x="294.4" y="15.1">)</text></g>
</svg>
</body></html>
